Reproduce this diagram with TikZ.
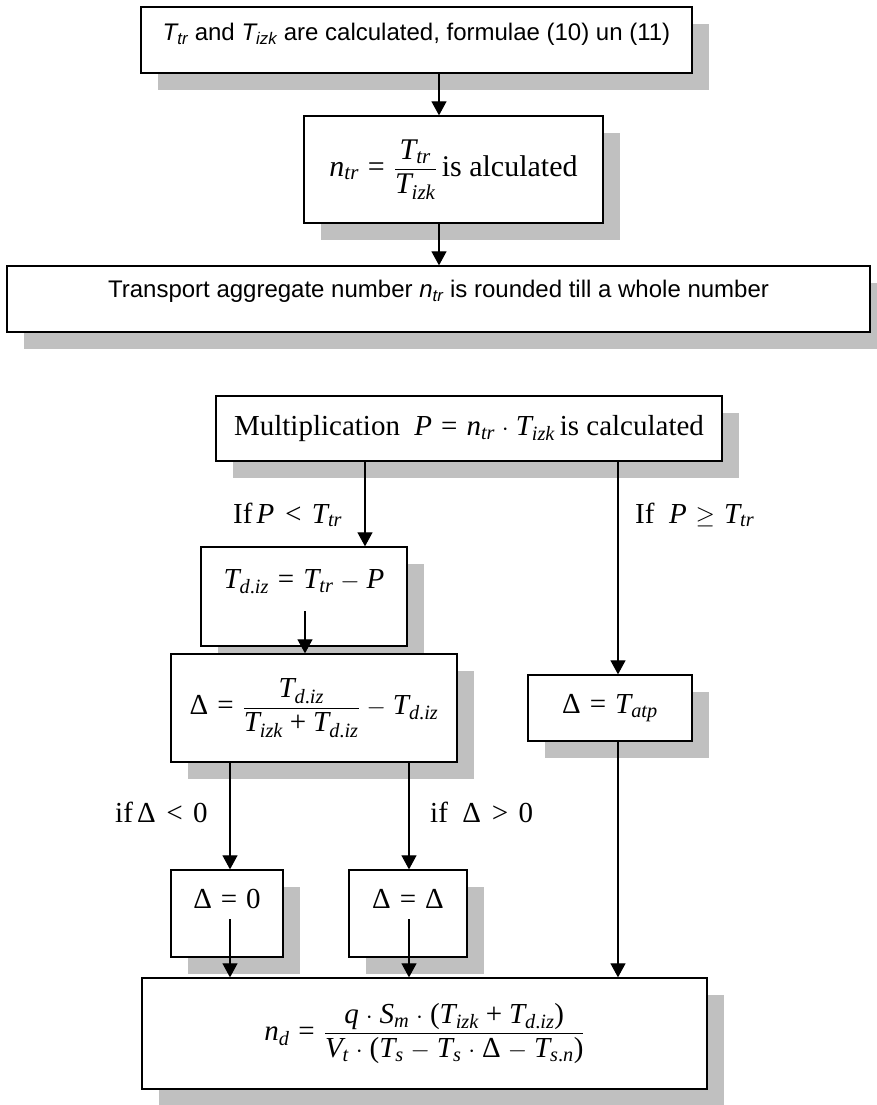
\documentclass[tikz,border=0pt]{standalone}
\usepackage{amsmath}
\usepackage[no-math]{fontspec}
\setmainfont{Liberation Serif}
\newfontfamily\arialfont{Liberation Sans}
\newfontfamily\timesfont[NFSSFamily=ltimes]{Liberation Serif}
\DeclareSymbolFont{operators}{TU}{ltimes}{m}{n}
\DeclareSymbolFont{letters}{TU}{ltimes}{m}{it}
\mathcode`\.="002E
\Umathchardef\Delta="0 "0 "394
\medmuskip=5mu plus 2mu minus 2mu
\thickmuskip=6.5mu plus 3mu
\usetikzlibrary{arrows.meta,shadows}

\definecolor{shadowgray}{RGB}{192,192,192}
\tikzset{
  box/.style={draw, fill=white, line width=1.3pt, inner sep=0pt,
    drop shadow={shadow xshift=17pt, shadow yshift=-17pt, fill=shadowgray, opacity=1}},
  arr/.style={-{Triangle[length=14pt,width=15pt]}, line width=1.1pt},
  sans/.style={font=\arialfont\fontsize{24}{28}\selectfont},
  serif/.style={font=\fontsize{29}{33}\selectfont},
  toptext/.style={anchor=base, yshift=-#1}
}

\begin{document}
\begin{tikzpicture}[x=1pt, y=-1pt]
      \useasboundingbox (0,0) rectangle (876,1105);
      \node[box, minimum width=551, minimum height=66,
        label={[sans, toptext=34pt]north:{\itshape T\textsubscript{tr}} and {\itshape T\textsubscript{izk}} are calculated, formulae (10) un (11)}] (calc) at (416.5,40) {};
      \node[box, serif, font=\fontsize{30}{34}\selectfont, minimum width=299, minimum height=107] (ratio) at (453.5,169.5)
        {$n_{tr}=\dfrac{T_{tr}}{T_{izk}}$\,is alculated};
      \node[box, minimum width=863, minimum height=66,
        label={[sans, toptext=32pt]north:Transport aggregate number {\itshape n\textsubscript{tr}} is rounded till a whole number}] (round) at (438.5,299) {};
      \draw[arr] (calc.south -| 439,0) -- (ratio.north -| 439,0);
      \draw[arr] (ratio.south -| 439,0) -- (round.north -| 439,0);

      \node[box, serif, minimum width=506, minimum height=65] (mult) at (469,428.5)
        {Multiplication\ \ $P=n_{tr}\cdot T_{izk}$\,is calculated};
      \node[box, minimum width=206, minimum height=99,
        label={[serif, toptext=42pt]north:$T_{d.iz}=T_{tr}-P$}] (diz) at (304,596.5) {};
      \node[box, serif, minimum width=286, minimum height=108] (delta) at (314,708)
        {$\Delta=\dfrac{T_{d.iz}}{T_{izk}+T_{d.iz}}-T_{d.iz}$};
      \node[box, serif, minimum width=164, minimum height=66] (tatp) at (610,708)
        {$\Delta=T_{atp}$};
      \node[box, minimum width=112, minimum height=87,
        label={[serif, toptext=39pt]north:$\Delta=0$}] (zero) at (227,913.5) {};
      \node[box, minimum width=118, minimum height=87,
        label={[serif, toptext=39pt]north:$\Delta=\Delta$}] (same) at (408,913.5) {};
      \node[box, serif, minimum width=565, minimum height=111] (nd) at (424.5,1033.5)
        {$n_d=\dfrac{q\cdot S_m\cdot(T_{izk}+T_{d.iz})}{V_t\cdot(T_s-T_s\cdot\Delta-T_{s.n})}$};

      \node[serif, anchor=base west, inner sep=0pt] (less) at (233,523) {If$\,P<T_{tr}$};
      \node[serif, anchor=base west, inner sep=0pt] (geq) at (635,523) {If\ \ $P\geq T_{tr}$};
      \node[serif, anchor=base west, inner sep=0pt] (neg) at (115,822) {if$\,\Delta<0$};
      \node[serif, anchor=base west, inner sep=0pt] (pos) at (430,822) {if\ \ $\Delta>0$};

      \coordinate (dizout) at (305,611);
      \coordinate (zeroout) at (230,919);
      \coordinate (sameout) at (409,919);
      \draw[arr] (mult.south -| 365,0) -- (diz.north -| 365,0);
      \draw[arr] (mult.south -| 618,0) -- (tatp.north -| 618,0);
      \draw[arr] (dizout) -- (delta.north -| dizout);
      \draw[arr] (delta.south -| zeroout) -- (zero.north -| zeroout);
      \draw[arr] (delta.south -| sameout) -- (same.north -| sameout);
      \draw[arr] (zeroout) -- (nd.north -| zeroout);
      \draw[arr] (sameout) -- (nd.north -| sameout);
      \draw[arr] (tatp.south -| 618,0) -- (nd.north -| 618,0);
    \end{tikzpicture}
\end{document}
